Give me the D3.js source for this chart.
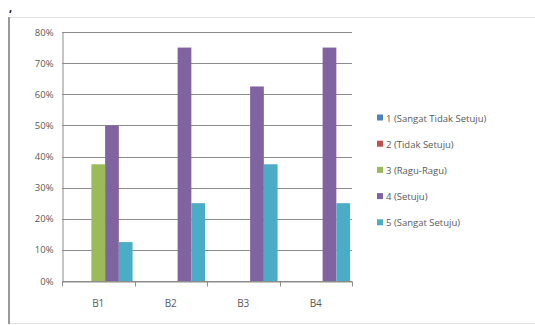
<!DOCTYPE html>
<html>
<head>
<meta charset="utf-8">
<script src="https://cdn.jsdelivr.net/npm/d3@7"></script>
<style>
  html, body { margin: 0; padding: 0; background: #fff; }
  svg { display: block; }
  text { font-family: "Open Sans", "Liberation Sans", sans-serif; fill: #595959; }
</style>
</head>
<body>
<svg id="chart" width="535" height="325"></svg>
<script>
// Survey answers per item, as share of respondents
const categories = ["B1", "B2", "B3", "B4"];
const seriesNames = ["1 (Sangat Tidak Setuju)", "2 (Tidak Setuju)", "3 (Ragu-Ragu)", "4 (Setuju)", "5 (Sangat Setuju)"];
const s1 = [0, 0, 0, 0];
const s2 = [0, 0, 0, 0];
const s3 = [0.375, 0, 0, 0];
const s4 = [0.5, 0.75, 0.625, 0.75];
const s5 = [0.125, 0.25, 0.375, 0.25];
const yTicks = [0, 0.1, 0.2, 0.3, 0.4, 0.5, 0.6, 0.7, 0.8];
const colors = ["#4F81BD", "#C0504D", "#9BBB59", "#8064A2", "#4BACC6"];

const seriesValues = [s1, s2, s3, s4, s5];
const svg = d3.select("#chart");

// Outer frame
svg.append("text").attr("x", 9).attr("y", 12).attr("font-size", 11)
  .attr("font-weight", "bold").style("fill", "#000").text(",");
svg.append("line").attr("x1", 8).attr("x2", 535).attr("y1", 17.5).attr("y2", 17.5)
  .attr("stroke", "#e2e2e2");
svg.append("line").attr("x1", 8).attr("x2", 535).attr("y1", 323.5).attr("y2", 323.5)
  .attr("stroke", "#e2e2e2");
svg.append("line").attr("x1", 9).attr("x2", 9).attr("y1", 17).attr("y2", 324)
  .attr("stroke", "#9a9a9a").attr("stroke-width", 2);

const plot = { left: 62, right: 352, top: 32, bottom: 281 };

const x = d3.scaleBand().domain(categories).range([plot.left, plot.right]).paddingInner(0).paddingOuter(0);
const xs = d3.scaleBand().domain(d3.range(seriesNames.length))
  .range([0, x.bandwidth()]).paddingInner(0).paddingOuter(0.14);
const y = d3.scaleLinear().domain([0, 0.8]).range([plot.bottom, plot.top]);

// Gridlines
svg.append("g").selectAll("line").data(yTicks).join("line")
  .attr("x1", plot.left).attr("x2", plot.right)
  .attr("y1", d => Math.round(y(d)) + 0.5).attr("y2", d => Math.round(y(d)) + 0.5)
  .attr("stroke", "#8c8c8c").attr("stroke-width", 1);

// Y axis
const yAxis = d3.axisLeft(y).tickValues(yTicks).tickFormat(d3.format(".0%")).tickSize(0).tickPadding(9);
const gy = svg.append("g").attr("transform", `translate(${plot.left + 0.5},0)`).call(yAxis);
gy.selectAll("path, line").attr("stroke", "#8c8c8c");
gy.selectAll("text").attr("font-size", 9.5).style("fill", "#595959");

// Bars
const groups = svg.append("g").selectAll("g").data(categories).join("g")
  .attr("transform", d => `translate(${x(d)},0)`);
groups.selectAll("rect")
  .data((c, ci) => seriesValues.map((vals, si) => ({ si, v: vals[ci] })))
  .join("rect")
  .attr("x", d => xs(d.si))
  .attr("width", xs.bandwidth())
  .attr("y", d => y(d.v))
  .attr("height", d => y(0) - y(d.v))
  .attr("fill", d => colors[d.si]);

// X axis
const xAxis = d3.axisBottom(x).tickSize(0).tickPadding(18);
const gx = svg.append("g").attr("transform", `translate(0,${Math.round(y(0)) + 0.5})`).call(xAxis);
gx.select("path").attr("stroke", "#8c8c8c");
gx.selectAll("text").attr("font-size", 10).style("fill", "#595959");
// Tick marks at band boundaries
const bounds = categories.map(c => x(c)).concat([plot.right]);
gx.append("g").selectAll("line").data(bounds).join("line")
  .attr("x1", d => Math.round(d) + 0.5).attr("x2", d => Math.round(d) + 0.5)
  .attr("y1", 0).attr("y2", 5).attr("stroke", "#8c8c8c");

// Legend
const legend = svg.append("g").attr("transform", "translate(377,118)");
const rows = legend.selectAll("g").data(seriesNames).join("g")
  .attr("transform", (d, i) => `translate(0,${i * 26.2})`);
rows.append("rect").attr("x", 0).attr("y", -3.5).attr("width", 6).attr("height", 6)
  .attr("fill", (d, i) => colors[i]);
rows.append("text").attr("x", 9).attr("y", 3.5).attr("font-size", 9.5).text(d => d);
</script>
</body>
</html>
